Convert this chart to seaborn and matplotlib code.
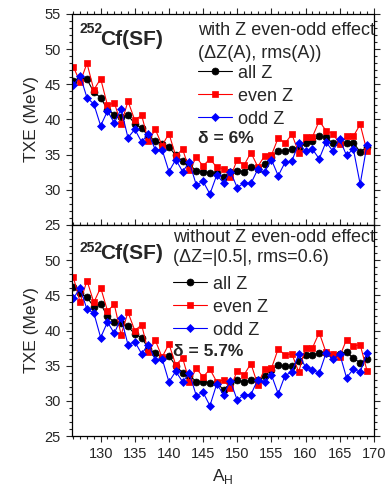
import matplotlib
matplotlib.use("Agg")
import matplotlib.pyplot as plt
import seaborn as sns
from matplotlib.ticker import MultipleLocator

A_H = list(range(126, 170))

# upper panel: with Z even-odd effect
top_all = [45.5, 45.9, 45.7, 43.9, 43.1, 41.4, 40.7, 40.4, 40.6, 39.4,
           38.8, 37.6, 37.0, 36.5, 36.1, 34.9, 34.1, 33.6, 32.7, 32.6,
           32.4, 32.4, 31.8, 32.5, 32.7, 32.6, 33.2, 33.0, 33.6, 34.6,
           35.5, 35.5, 35.8, 36.0, 36.6, 36.9, 37.6, 37.5, 36.6, 36.7,
           36.6, 36.7, 35.4, 36.1]
top_even = [47.5, 45.3, 48.0, 44.2, 45.8, 42.0, 42.4, 39.3, 42.6, 39.9,
            40.6, 36.9, 38.6, 36.3, 38.0, 34.8, 35.8, 32.8, 34.6, 33.4,
            34.4, 33.2, 33.0, 31.8, 34.3, 33.5, 35.3, 33.3, 34.8, 34.9,
            37.4, 36.6, 37.9, 35.3, 37.5, 37.5, 39.8, 38.4, 38.0, 36.5,
            37.6, 37.6, 39.3, 35.5]
top_odd = [44.9, 46.2, 43.1, 42.2, 39.1, 41.2, 39.5, 41.5, 37.4, 38.6,
           36.8, 38.0, 35.7, 35.7, 32.6, 34.3, 32.6, 33.9, 30.7, 31.2,
           29.4, 32.1, 31.0, 32.6, 30.3, 31.0, 30.9, 32.9, 32.5, 34.3,
           32.0, 33.9, 34.1, 36.6, 35.5, 35.8, 34.4, 36.8, 35.5, 37.2,
           34.9, 35.8, 30.8, 36.4]

# lower panel: without Z even-odd effect
bot_all = [46.2, 45.3, 44.7, 43.4, 43.8, 42.0, 41.2, 41.0, 40.6, 39.5,
           39.0, 37.4, 36.8, 36.1, 36.4, 35.0, 34.0, 33.6, 32.75, 32.65,
           32.6, 32.5, 31.6, 32.5, 32.9, 32.7, 32.9, 32.9, 33.5, 34.4,
           35.1, 34.9, 34.9, 35.6, 36.45, 36.5, 36.8, 36.8, 36.5, 36.7,
           36.9, 36.1, 35.4, 35.9]
bot_even = [47.6, 44.0, 47.1, 44.0, 46.1, 42.8, 43.7, 39.4, 42.6, 40.0,
            40.8, 36.9, 38.6, 36.2, 38.1, 35.1, 36.1, 32.7, 34.6, 33.4,
            34.5, 32.7, 33.0, 31.8, 34.3, 33.7, 35.3, 32.3, 34.5, 34.6,
            37.4, 36.5, 36.7, 34.1, 37.5, 37.5, 39.7, 36.9, 36.6, 36.3,
            38.7, 37.8, 38.0, 34.3]
bot_odd = [44.6, 46.0, 43.0, 42.5, 39.0, 41.2, 39.6, 41.8, 38.0, 38.4,
           36.7, 38.0, 35.8, 36.0, 32.7, 34.2, 32.7, 33.9, 30.75, 31.2,
           29.3, 32.4, 30.9, 32.8, 30.1, 30.9, 30.9, 33.0, 32.65, 33.7,
           31.0, 33.6, 34.1, 36.6, 34.8, 34.4, 33.9, 36.8, 35.9, 36.7,
           33.3, 34.5, 34.1, 36.8]

series_labels = ["all Z", "even Z", "odd Z"]
header_top = ["with Z even-odd effect", "(ΔZ(A), rms(A))"]
header_bot = ["without Z even-odd effect", "(ΔZ=|0.5|, rms=0.6)"]
delta_top = "δ = 6%"
delta_bot = "δ = 5.7%"

sns.set_style("ticks")
plt.rcParams["font.family"] = ["Liberation Sans", "DejaVu Sans"]

fig = plt.figure(figsize=(3.89, 4.91), dpi=100)
ax1 = fig.add_axes([0.185, 0.5418, 0.776, 0.4297])
ax2 = fig.add_axes([0.185, 0.1120, 0.776, 0.4297])

styles = [dict(color="black", marker="o", markersize=5.0),
          dict(color="red", marker="s", markersize=4.2),
          dict(color="blue", marker="D", markersize=3.8)]


def draw(ax, ys, header, delta, hx, lx, ly, dx, dy, hy, nuc_y):
    for y, lab, st in zip(ys, series_labels, styles):
        sns.lineplot(x=A_H, y=y, ax=ax, label=lab, linewidth=0.8,
                     markeredgecolor=st["color"], markeredgewidth=0.5, **st)
    ax.set_xlim(125.8, 170)
    ax.set_ylim(25, 55)
    ax.xaxis.set_major_locator(MultipleLocator(5))
    ax.xaxis.set_minor_locator(MultipleLocator(1))
    ax.yaxis.set_major_locator(MultipleLocator(5))
    ax.yaxis.set_minor_locator(MultipleLocator(1))
    ax.tick_params(which="both", direction="out", top=True, right=True,
                   labelsize=10.5, width=0.8)
    ax.tick_params(which="major", length=4.5)
    ax.tick_params(which="minor", length=2.5)
    for s in ax.spines.values():
        s.set_linewidth(0.9)
        s.set_color("black")
    ax.set_ylabel("TXE (MeV)", fontsize=12.5)
    ax.text(hx, hy[0], header[0], transform=ax.transAxes, fontsize=13,
            va="center", ha="left", clip_on=True)
    ax.text(hx, hy[1], header[1], transform=ax.transAxes, fontsize=13,
            va="center", ha="left")
    ax.text(dx, dy, delta, transform=ax.transAxes, fontsize=12.5,
            fontweight="bold", va="center", ha="left")
    ax.text(0.026, nuc_y[0], "252", transform=ax.transAxes, fontsize=10,
            fontweight="bold", va="center", ha="left")
    ax.text(0.093, nuc_y[1], "Cf(SF)", transform=ax.transAxes, fontsize=15,
            fontweight="bold", va="center", ha="left")
    ax.legend(loc="upper left", bbox_to_anchor=(lx, ly), frameon=False,
              fontsize=13, handlelength=1.9, handletextpad=0.3,
              labelspacing=0.33, borderpad=0, borderaxespad=0)


draw(ax1, [top_all, top_even, top_odd], header_top, delta_top,
     0.417, 0.417, 0.76, 0.417, 0.41, (0.922, 0.815), (0.929, 0.879))
draw(ax2, [bot_all, bot_even, bot_odd], header_bot, delta_bot,
     0.334, 0.334, 0.76, 0.334, 0.40, (0.943, 0.844), (0.891, 0.867))

ax1.tick_params(labelbottom=False)
ax2.set_yticks([25, 30, 35, 40, 45, 50])
ax2.set_xlabel(r"A$_\mathregular{H}$", fontsize=12.5)

fig.savefig("out.png", dpi=100)
